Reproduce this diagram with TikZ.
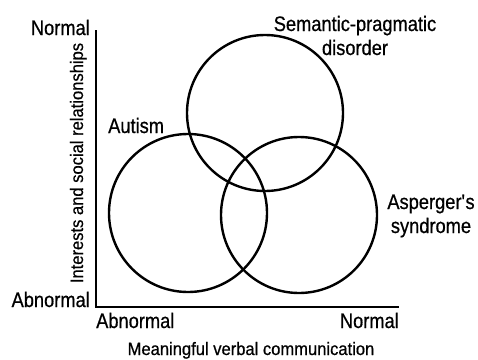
\documentclass[tikz,border=0pt]{standalone}
\usepackage{fontspec}
\setmainfont{Liberation Sans}[FakeStretch=0.87,FakeBold=0.6]
\newfontfamily\ttlfont{Liberation Sans}[FakeStretch=0.92,FakeBold=0.6]
\begin{document}
\begin{tikzpicture}[x=1pt,y=-1pt,
  circ/.style={draw=black,line width=2.4pt},
  axis/.style={draw=black,line width=2.6pt},
  lbl/.style={inner sep=0pt,font=\fontsize{21}{24}\selectfont},
  ttl/.style={inner sep=0pt,font=\ttlfont\fontsize{18}{21}\selectfont}]
\useasboundingbox (0,0) rectangle (478,359);
% axes
\coordinate (top) at (96,30);
\coordinate (origin) at (96,307);
\coordinate (right) at (399,307);
\draw[axis] (top) -- (origin) -- (right);
% circles
\node[circ,circle,minimum size=158pt,inner sep=0pt] (autism) at (188,213) {};
\node[circ,circle,minimum size=156pt,inner sep=0pt] (sem) at (265,113) {};
\node[circ,circle,minimum size=156pt,inner sep=0pt] (asp) at (299,215) {};
% labels
\node[lbl,anchor=base east] (ynorm) at (90,35) {Normal};
\node[lbl,anchor=base east] (yabn) at (90,307) {Abnormal};
\node[lbl,anchor=base west] (xabn) at (96,328) {Abnormal};
\node[lbl,anchor=base east] (xnorm) at (399,328) {Normal};
\node[ttl,anchor=base] (xttl) at (251,355) {Meaningful verbal communication};
\node[ttl,anchor=base,rotate=90] (yttl) at (83,163) {Interests and social relationships};
\node[lbl,anchor=base west] (lautism) at (108,133) {Autism};
\node[lbl,anchor=base,align=center] (lsem) at (355,55) {Semantic-pragmatic\\disorder};
\node[lbl,anchor=base,align=center] (lasp) at (431,233) {Asperger\textquotesingle s\\syndrome};
\end{tikzpicture}
\end{document}
